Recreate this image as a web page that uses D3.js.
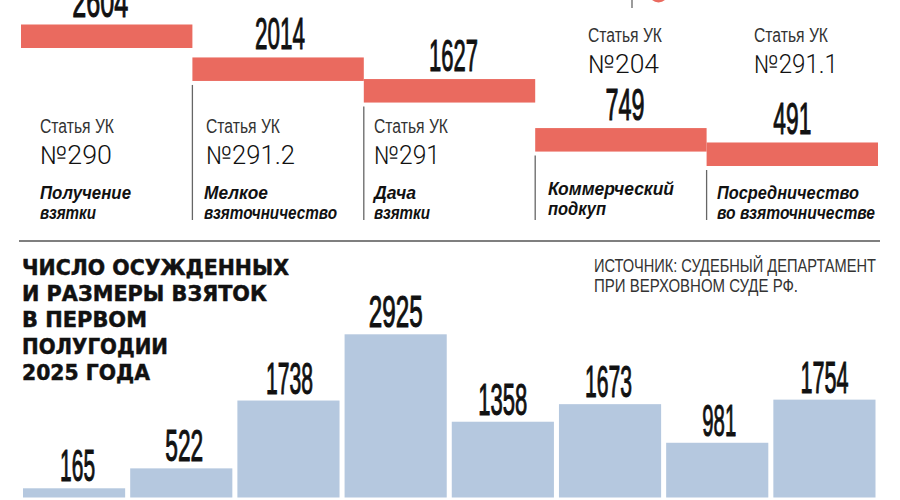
<!DOCTYPE html>
<html>
<head>
<meta charset="utf-8">
<script src="https://cdn.jsdelivr.net/npm/d3@7"></script>
<style>
  html, body { margin: 0; padding: 0; background: #fff; }
  svg { display: block; }
  text { fill: #111; }
</style>
</head>
<body>
<svg id="chart" width="900" height="500"></svg>
<script>
// top chart: convictions by article
var articleValues = [2604, 2014, 1627, 749, 491];
var articleNames = ["№290", "№291.2", "№291", "№204", "№291.1"];
var articleCaptions = [
  ["Получение", "взятки"],
  ["Мелкое", "взяточничество"],
  ["Дача", "взятки"],
  ["Коммерческий", "подкуп"],
  ["Посредничество", "во взяточничестве"]
];

// bottom chart: convicted by bribe size (no visible category labels)
var sizeIndex = [0, 1, 2, 3, 4, 5, 6, 7];
var sizeValues = [165, 522, 1738, 2925, 1358, 1673, 981, 1754];

var titleLines = ["ЧИСЛО ОСУЖДЕННЫХ", "И РАЗМЕРЫ ВЗЯТОК", "В ПЕРВОМ", "ПОЛУГОДИИ", "2025 ГОДА"];
var sourceLines = ["ИСТОЧНИК: СУДЕБНЫЙ ДЕПАРТАМЕНТ", "ПРИ ВЕРХОВНОМ СУДЕ РФ."];

// layout: text widths, the narrow fonts of the original are not installed
var articleNumberW = [56, 50, 49, 39, 38];
var articleNumberDx = [-6.5, 2, 4, 4, 0];
var sizeNumberW = [35, 38, 47, 54, 49, 47, 34, 48];
var sizeNumberDx = [3.5, 3, 1, 0, 0, -1.5, 2, 0];
var nameW = [72, 89, 66, 71, 84];
var captionW = [[91, 56], [64, 133], [42, 56], [126, 58], [142, 158]];
var titleW = [267, 245, 125, 146, 128];
var sourceW = [282, 204];

var red = "#ea6a5f";
var blue = "#b5c8df";
var svg = d3.select("#chart");

var helv = "'Liberation Sans', Arial, sans-serif";

// condensed numeral: squeezed to a given width
function bigNumber(x, y, label, w) {
  svg.append("text")
    .attr("x", x - w / 2)
    .attr("y", y)
    .attr("font-family", helv)
    .attr("font-size", 45)
    .attr("stroke", "#111")
    .attr("stroke-width", 1.1)
    .attr("textLength", w)
    .attr("lengthAdjust", "spacingAndGlyphs")
    .text(label);
}

// top steps
var xTop = d3.scaleBand().domain(articleNames).range([21, 878]).padding(0);
var yTop = d3.scaleLinear().domain([0, 2604]).range([169.9, 24.5]);
var stepHeight = 23.5;

svg.selectAll("rect.step")
  .data(articleValues)
  .enter()
  .append("rect")
  .attr("class", "step")
  .attr("x", (d, i) => xTop(articleNames[i]))
  .attr("y", d => yTop(d))
  .attr("width", xTop.bandwidth())
  .attr("height", stepHeight)
  .attr("fill", red);

articleValues.forEach((v, i) => {
  var x0 = xTop(articleNames[i]);
  var mid = x0 + xTop.bandwidth() / 2;
  bigNumber(mid + articleNumberDx[i], yTop(v) - 8, String(v), articleNumberW[i]);

  // first three have the article above the caption, last two above the number
  var above = i >= 3;
  var labelX = [40, 206, 374, 588, 754][i];
  var y1 = above ? 42 : 133;
  var y2 = above ? 72.5 : 163.5;

  svg.append("text")
    .attr("x", labelX).attr("y", y1)
    .attr("font-family", helv)
    .attr("font-size", 20)
    .attr("textLength", 74)
    .attr("lengthAdjust", "spacingAndGlyphs")
    .style("fill", "#333")
    .text("Статья УК");
  svg.append("text")
    .attr("x", labelX).attr("y", y2)
    .attr("font-family", "Roboto, " + helv)
    .attr("font-weight", 300)
    .attr("font-size", 25)
    .attr("textLength", nameW[i])
    .attr("lengthAdjust", "spacingAndGlyphs")
    .style("fill", "#111")
    .text(articleNames[i]);

  var capX = [40, 204, 374, 548, 717][i];
  var capY = [199, 199, 199, 195, 199][i];
  articleCaptions[i].forEach((line, k) => {
    svg.append("text")
      .attr("x", capX).attr("y", capY + k * 20)
      .attr("font-family", helv)
      .attr("font-size", 18)
      .attr("font-weight", "bold")
      .attr("font-style", "italic")
      .attr("textLength", captionW[i][k])
      .attr("lengthAdjust", "spacingAndGlyphs")
      .text(line);
  });

  // divider under the step
  if (i > 0) {
    svg.append("line")
      .attr("x1", x0).attr("x2", x0)
      .attr("y1", yTop(v) + stepHeight + 4)
      .attr("y2", 220)
      .attr("stroke", "#666")
      .attr("stroke-width", 1.3);
  }
});

// cut-off legend at the very top edge
svg.append("line")
  .attr("x1", 632).attr("x2", 632).attr("y1", 0).attr("y2", 8)
  .attr("stroke", "#666").attr("stroke-width", 1.3);
svg.append("circle")
  .attr("cx", 658.5).attr("cy", -7).attr("r", 9.5).attr("fill", red);

// separator
svg.append("line")
  .attr("x1", 19).attr("x2", 880).attr("y1", 241).attr("y2", 241)
  .attr("stroke", "#555").attr("stroke-width", 1.5);

titleLines.forEach((line, i) => {
  svg.append("text")
    .attr("x", 22).attr("y", 275 + i * 26.2)
    .attr("font-family", "'DejaVu Sans', sans-serif")
    .attr("font-weight", "bold")
    .attr("font-size", 22)
    .attr("stroke", "#111")
    .attr("stroke-width", 0.5)
    .attr("textLength", titleW[i])
    .attr("lengthAdjust", "spacingAndGlyphs")
    .text(line);
});

sourceLines.forEach((line, i) => {
  svg.append("text")
    .attr("x", 594).attr("y", 271.5 + i * 20)
    .attr("font-family", helv)
    .attr("font-size", 18)
    .attr("textLength", sourceW[i])
    .attr("lengthAdjust", "spacingAndGlyphs")
    .style("fill", "#333")
    .text(line);
});

// bottom bars
var xBottom = d3.scaleBand().domain(sizeIndex).range([23, 875.5]).paddingInner(0.047).paddingOuter(0);
var yBottom = d3.scaleLinear().domain([0, 2925]).range([497.5, 334.3]);

svg.selectAll("rect.size")
  .data(sizeValues)
  .enter()
  .append("rect")
  .attr("class", "size")
  .attr("x", (d, i) => xBottom(i))
  .attr("y", d => yBottom(d))
  .attr("width", xBottom.bandwidth())
  .attr("height", d => yBottom(0) - yBottom(d))
  .attr("fill", blue);

sizeValues.forEach((v, i) => {
  bigNumber(xBottom(i) + xBottom.bandwidth() / 2 + sizeNumberDx[i], yBottom(v) - 7, String(v), sizeNumberW[i]);
});
</script>
</body>
</html>
